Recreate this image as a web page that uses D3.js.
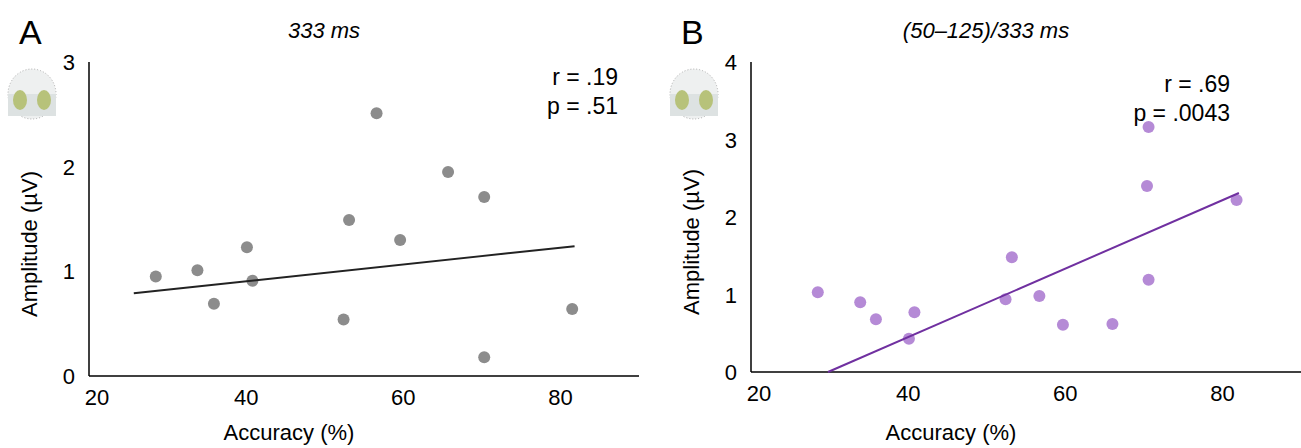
<!DOCTYPE html>
<html><head><meta charset="utf-8">
<script src="https://cdn.jsdelivr.net/npm/d3@7"></script>
<style>body{margin:0;background:#fff}svg{font-family:"Liberation Sans",Arial,sans-serif}</style>
</head><body><div id="chart"></div>
<script>
'use strict';
// panel A: 333 ms
const accA = [28.5, 33.8, 35.9, 40.1, 40.8, 52.4, 53.1, 56.6, 59.6, 65.7, 70.3, 70.3, 81.5];
const ampA = [0.95, 1.01, 0.69, 1.23, 0.91, 0.54, 1.49, 2.51, 1.30, 1.95, 1.71, 0.18, 0.64];
const fitA = [[25.7, 0.79], [81.8, 1.24]];
// panel B: (50–125)/333 ms
const accB = [28.5, 33.9, 35.9, 40.8, 40.1, 52.4, 53.2, 56.7, 59.7, 66.0, 70.6, 70.4, 70.6, 81.8];
const ampB = [1.03, 0.90, 0.68, 0.77, 0.43, 0.94, 1.48, 0.98, 0.61, 0.62, 3.16, 2.40, 1.19, 2.22];
const fitB = [[29.8, 0.0], [82.1, 2.31]];
const xTicks = [20, 40, 60, 80];

const svg = d3.select("#chart").append("svg").attr("width", 1301).attr("height", 448);

function panel(o) {
	const x = d3.scaleLinear().domain([20, 90]).range([o.x0, o.x0 + 550]);
	const y = d3.scaleLinear().domain([0, o.ymax]).range([o.y0, 62]);
	const g = svg.append("g");

	g.append("line").attr("x1", x(20)).attr("x2", x(20)).attr("y1", y(0)).attr("y2", 62)
		.attr("stroke", "#000").attr("stroke-width", 1.5);
	g.append("line").attr("x1", x(20)).attr("x2", x(90)).attr("y1", y(0)).attr("y2", y(0))
		.attr("stroke", "#000").attr("stroke-width", 1.5);

	g.selectAll(".xt").data(xTicks).join("text")
		.attr("x", d => x(d) + (d == 20 ? 8 : 0)).attr("y", y(0) + 29)
		.attr("text-anchor", "middle").attr("font-size", 22).text(d => d);
	g.selectAll(".yt").data(d3.range(0, o.ymax + 1)).join("text")
		.attr("x", x(20) - 14).attr("y", d => y(d) + 8)
		.attr("text-anchor", "end").attr("font-size", 22).text(d => d);

	g.append("text").attr("x", x(20) + 200).attr("y", 440).attr("text-anchor", "middle")
		.attr("font-size", 22).text("Accuracy (%)");
	g.append("text").attr("transform", `translate(${x(20) - 52},${(y(0) + 62) / 2 + 25}) rotate(-90)`)
		.attr("text-anchor", "middle").attr("font-size", 22).text("Amplitude (µV)");
	g.append("text").attr("x", x(20) + 235).attr("y", 38).attr("text-anchor", "middle")
		.attr("font-size", 22).attr("font-style", "italic").text(o.title);
	g.append("text").attr("x", o.x0 - 70).attr("y", 44).attr("font-size", 34).text(o.letter);
	g.append("text").attr("x", o.rx).attr("y", o.ry).attr("text-anchor", "end")
		.attr("font-size", 23).text(o.r);
	g.append("text").attr("x", o.rx).attr("y", o.ry + 29).attr("text-anchor", "end")
		.attr("font-size", 23).text(o.p);

	// head icon
	const h = g.append("g").attr("transform", `translate(${o.x0 - 57},94)`);
	h.append("ellipse").attr("rx", 24).attr("ry", 25).attr("fill", "#eef0f0").attr("stroke", "#aaa").attr("stroke-dasharray", "1,2");
	h.append("rect").attr("x", -24).attr("y", 0).attr("width", 48).attr("height", 22).attr("fill", "#dde2e2");
	h.append("ellipse").attr("cx", -12).attr("cy", 6).attr("rx", 7).attr("ry", 10).attr("fill", "#b7c27a");
	h.append("ellipse").attr("cx", 12).attr("cy", 6).attr("rx", 7).attr("ry", 10).attr("fill", "#b7c27a");

	const pts = o.acc.map((a, i) => [a, o.amp[i]]);
	g.selectAll("circle.pt").data(pts).join("circle")
		.attr("cx", d => x(d[0])).attr("cy", d => y(d[1])).attr("r", 6).attr("fill", o.color);
	g.append("path").datum(o.fit)
		.attr("d", d3.line().x(d => x(d[0])).y(d => y(d[1])))
		.attr("stroke", o.line).attr("stroke-width", 2).attr("fill", "none");
}

panel({x0: 89, y0: 376, ymax: 3, acc: accA, amp: ampA, fit: fitA, color: "#8c8c8c", line: "#222",
	title: "333 ms", letter: "A", r: "r = .19", p: "p = .51", rx: 618, ry: 85});
panel({x0: 751, y0: 372, ymax: 4, acc: accB, amp: ampB, fit: fitB, color: "#b58ad6", line: "#7030a0",
	title: "(50–125)/333 ms", letter: "B", r: "r = .69", p: "p = .0043", rx: 1230, ry: 92});
</script></body></html>
